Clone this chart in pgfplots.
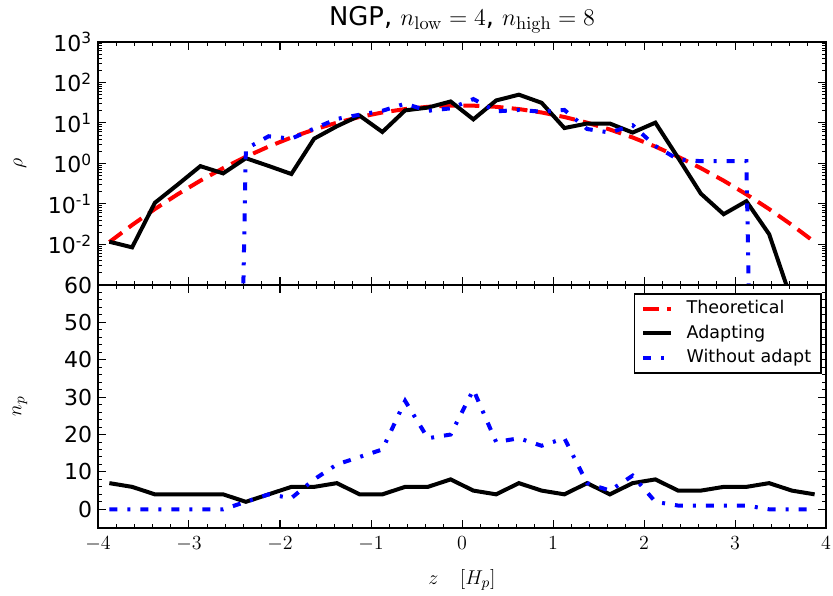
\documentclass[border=0pt]{standalone}
\usepackage[no-math]{fontspec}
\setmainfont{DejaVu Sans}
\usepackage{pgfplots}
\pgfplotsset{compat=1.18}
\usepackage{pgfplotstable}

% top panel: density rho (log axis); zero values written as 1e-30 (clipped like matplotlib)
\pgfplotstableread{
z      red     black   blue
-3.875 0.0115  0.0117  1e-30
-3.625 0.0303  0.0085  1e-30
-3.375 0.0750  0.107   1e-30
-3.125 0.1735  0.30    1e-30
-2.875 0.377   0.86    1e-30
-2.625 0.767   0.57    1e-30
-2.375 1.464   1.35    2.3
-2.125 2.617   0.87    4.7
-1.875 4.39    0.55    4.1
-1.625 6.90    4.1     7.3
-1.375 10.16   8.3     12.6
-1.125 14.04   15.2    16
-0.875 18.18   6.0     20
-0.625 22.07   20.5    30
-0.375 25.11   24      20
-0.125 26.78   34      23
0.125  26.78   12.3    39
0.375  25.11   36      19.4
0.625  22.07   50      21
0.875  18.18   31.5    19
1.125  14.04   7.5     21
1.375  10.16   9.7     7.1
1.625  6.90    9.7     5.8
1.875  4.39    5.8     8.8
2.125  2.617   10.2    2.7
2.375  1.464   1.38    1.26
2.625  0.767   0.18    1.14
2.875  0.377   0.056   1.14
3.125  0.1735  0.117   1.14
3.375  0.0750  0.018   1e-30
3.625  0.0303  0.0004  1e-30
3.875  0.0115  0.0002  1e-30
}\toptable

% bottom panel: particle number n_p
\pgfplotstableread{
z      black blue
-3.875 7 0
-3.625 6 0
-3.375 4 0
-3.125 4 0
-2.875 4 0
-2.625 4 0
-2.375 2 2
-2.125 4 4
-1.875 6 3
-1.625 6 8
-1.375 7 12
-1.125 4 14
-0.875 4 16
-0.625 6 29
-0.375 6 19
-0.125 8 20
0.125  5 32
0.375  4 18
0.625  7 19
0.875  5 17
1.125  4 19
1.375  7 7
1.625  4 5
1.875  7 9
2.125  8 2
2.375  5 1
2.625  5 1
2.875  6 1
3.125  6 1
3.375  7 0
3.625  5 0
3.875  4 0
}\bottable

\begin{document}
\begin{tikzpicture}
\pgfplotsset{
  every axis/.append style={
    width=436.8pt, height=145.8pt, scale only axis,
    xmin=-4, xmax=4,
    axis line style={line width=1pt},
    every tick/.style={black, line width=0.6pt},
    major tick length=4.8pt, minor tick length=2.4pt,
    tick align=inside,
    xtick={-4,-3,-2,-1,0,1,2,3,4},
    minor x tick num=4,
    yticklabel style={font=\fontsize{13.2}{15}\selectfont},
    xticklabel style={font=\fontsize{12.6}{14}\selectfont, yshift=-1.5pt},
  },
}
\begin{axis}[
  at={(0,145.8pt)}, anchor=south west,
  ymode=log, ymin=1e-3, ymax=1e3,
  xticklabels={},
  ytick={1e-2,1e-1,1,1e1,1e2,1e3},
  yticklabels={10\textsuperscript{-2},10\textsuperscript{-1},10\textsuperscript{0},10\textsuperscript{1},10\textsuperscript{2},10\textsuperscript{3}},
  minor ytick={2e-3,3e-3,4e-3,5e-3,6e-3,7e-3,8e-3,9e-3,
               2e-2,3e-2,4e-2,5e-2,6e-2,7e-2,8e-2,9e-2,
               0.2,0.3,0.4,0.5,0.6,0.7,0.8,0.9,
               2,3,4,5,6,7,8,9,
               20,30,40,50,60,70,80,90,
               200,300,400,500,600,700,800,900},
  ylabel={$\rho$},
  ylabel style={at={(axis description cs:-0.107,0.5)}, anchor=center, font=\fontsize{13}{15}\selectfont},
  title={NGP, $n_{\mathrm{low}}=4$, $n_{\mathrm{high}}=8$},
  title style={at={(axis description cs:0.5,1.05)}, anchor=center, font=\fontsize{15.5}{18}\selectfont},
]
\addplot[red, line width=2.4pt, dash pattern=on 9.5pt off 5pt] table[x=z,y=red]{\toptable};
\addplot[black, line width=2.4pt] table[x=z,y=black]{\toptable};
\addplot[blue, line width=2.4pt, dash pattern=on 4.8pt off 6pt on 1.8pt off 6pt] table[x=z,y=blue]{\toptable};
\end{axis}
\begin{axis}[
  at={(0,0)}, anchor=south west,
  ymin=-5, ymax=60,
  ytick={0,10,20,30,40,50,60},
  yticklabels={0,10,20,30,40,50,60},
  minor y tick num=4,
  ylabel={$n_p$},
  ylabel style={at={(axis description cs:-0.107,0.5)}, anchor=center, font=\fontsize{13}{15}\selectfont},
  xlabel={$z\quad[H_p]$},
  xlabel style={at={(axis description cs:0.5,-0.214)}, anchor=center, font=\fontsize{13}{15}\selectfont},
  legend cell align=left,
  legend image code/.code={\draw[#1] (0pt,0pt) -- (17pt,0pt);},
  legend style={at={(axis description cs:0.9945,0.967)}, anchor=north east,
    draw=black, line width=1pt, font=\fontsize{10.5}{12.5}\selectfont,
    inner xsep=4pt, inner ysep=2pt,
    nodes={inner sep=2pt, text height=8pt, text depth=2.5pt},
    /tikz/every odd column/.append style={column sep=6pt}},
]
\addlegendimage{red, line width=2.4pt, dash pattern=on 9.5pt off 5pt}
\addlegendentry{Theoretical}
\addplot[black, line width=2.4pt] table[x=z,y=black]{\bottable};
\addlegendentry{Adapting}
\addplot[blue, line width=2.4pt, dash pattern=on 4.8pt off 6pt on 1.8pt off 6pt] table[x=z,y=blue]{\bottable};
\addlegendentry{Without adapt}
\end{axis}
\pgfresetboundingbox
\path[use as bounding box] (-58.8pt,-40.8pt) rectangle (441pt,316.8pt);
\end{tikzpicture}
\end{document}
